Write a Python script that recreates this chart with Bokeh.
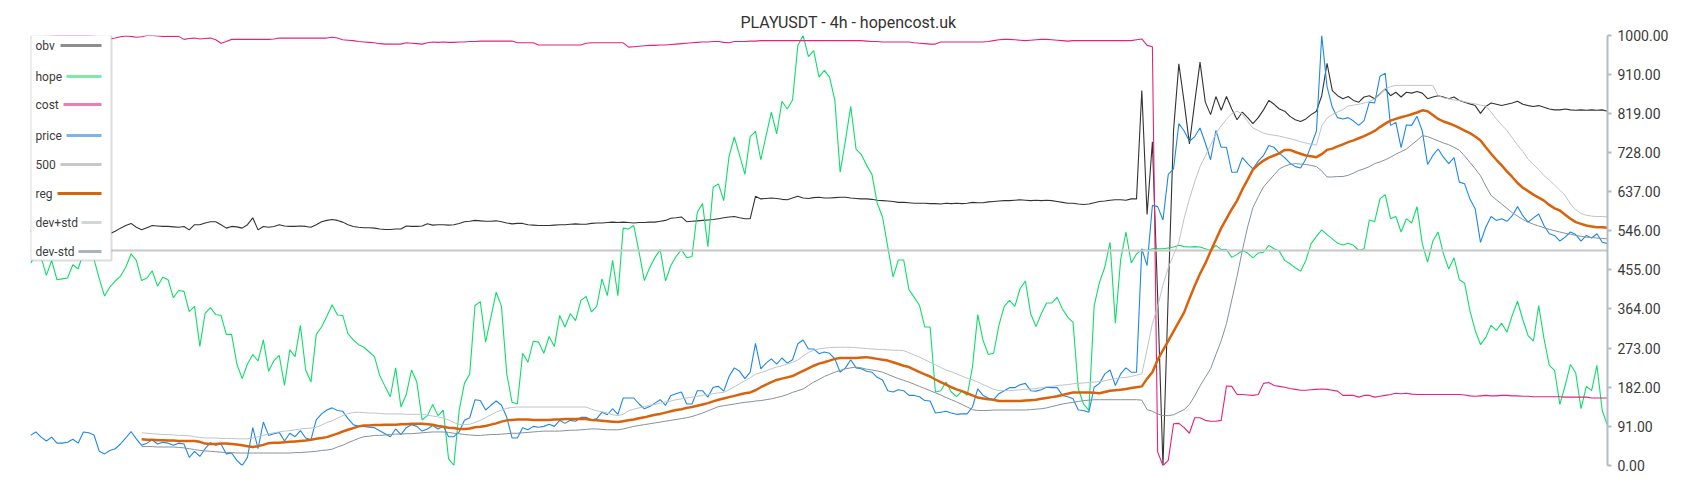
from bokeh.plotting import figure
from bokeh.models import Range1d, FixedTicker, PrintfTickFormatter, BoxAnnotation, Label
from bokeh.embed import file_html
from bokeh.resources import INLINE

TITLE = "PLAYUSDT - 4h - hopencost.uk"
LEVEL_500 = 500
TICKS = [0, 91, 182, 273, 364, 455, 546, 637, 728, 819, 910, 1000]
BAND_START = 21

price = [
70, 78, 66, 57, 66, 52, 52, 54, 61, 52,
78, 76, 71, 33, 27, 35, 39, 50, 64, 79,
62, 47, 52, 60, 50, 54, 52, 47, 52, 50,
19, 33, 21, 39, 53, 47, 50, 27, 29, 12,
0, 19, 88, 39, 101, 70, 74, 77, 57, 75,
67, 81, 64, 60, 106, 120, 129, 134, 128, 126,
109, 95, 91, 91, 89, 88, 81, 74, 67, 85,
72, 88, 95, 91, 80, 85, 93, 85, 91, 67,
67, 78, 105, 111, 153, 151, 129, 140, 150, 140,
112, 64, 64, 88, 83, 91, 89, 91, 96, 91,
105, 98, 105, 103, 112, 112, 106, 109, 124, 118,
132, 119, 157, 157, 157, 143, 132, 137, 145, 153,
140, 163, 167, 171, 143, 143, 174, 174, 159, 182,
184, 173, 207, 227, 219, 202, 217, 284, 225, 238,
248, 236, 250, 238, 246, 283, 292, 271, 271, 260,
264, 261, 248, 217, 227, 246, 227, 225, 219, 217,
205, 199, 174, 171, 176, 174, 163, 163, 160, 151,
150, 122, 124, 126, 122, 119, 120, 120, 136, 178,
163, 157, 153, 167, 174, 181, 181, 188, 191, 174,
173, 176, 182, 181, 181, 163, 160, 155, 129, 128,
124, 182, 191, 213, 222, 186, 213, 227, 217, 217,
504, 465, 605, 602, 571, 677, 690, 795, 778, 754,
765, 785, 750, 711, 779, 740, 740, 682, 682, 716,
702, 690, 708, 721, 744, 740, 726, 716, 703, 695,
692, 713, 744, 778, 1000, 881, 833, 809, 806, 809,
801, 791, 802, 845, 843, 905, 912, 791, 798, 739,
792, 791, 812, 778, 700, 721, 736, 717, 702, 716,
659, 655, 620, 597, 519, 554, 579, 570, 574, 568,
581, 602, 581, 566, 576, 585, 558, 539, 535, 522,
531, 543, 537, 522, 535, 529, 539, 519, 516]

hope = [
470, 490, 484, 442, 477, 432, 434, 436, 467, 457,
495, 500, 480, 434, 394, 415, 429, 440, 461, 492,
477, 430, 436, 453, 417, 438, 432, 390, 407, 405,
358, 370, 277, 354, 367, 351, 349, 305, 305, 236,
202, 236, 258, 243, 292, 219, 244, 256, 186, 269,
253, 326, 222, 194, 305, 322, 347, 374, 350, 349,
306, 292, 281, 275, 264, 253, 209, 184, 160, 227,
136, 165, 222, 194, 106, 116, 142, 116, 129, 16,
0, 128, 191, 213, 372, 381, 287, 345, 403, 370,
213, 147, 143, 261, 240, 289, 287, 261, 300, 277,
349, 322, 353, 337, 384, 393, 357, 370, 434, 395,
477, 395, 552, 550, 558, 496, 430, 460, 484, 502,
429, 465, 486, 502, 483, 486, 589, 609, 509, 647,
655, 616, 719, 764, 721, 677, 765, 777, 711, 767,
822, 771, 847, 829, 850, 977, 1000, 951, 965, 903,
919, 903, 849, 682, 756, 835, 736, 723, 698, 677,
610, 578, 508, 438, 478, 478, 409, 391, 372, 322,
322, 171, 174, 194, 171, 160, 173, 163, 229, 351,
291, 258, 261, 326, 370, 384, 370, 411, 429, 353,
323, 353, 378, 378, 391, 364, 345, 333, 178, 143,
128, 372, 426, 461, 519, 331, 478, 543, 471, 492,
502, 500, 504, 504, 504, 506, 508, 512, 509, 508,
509, 508, 504, 500, 512, 502, 502, 484, 491, 500,
494, 483, 494, 496, 512, 504, 498, 477, 469, 460,
452, 477, 516, 533, 548, 537, 527, 517, 513, 517,
512, 500, 504, 571, 567, 620, 630, 574, 579, 543,
574, 564, 602, 516, 473, 522, 543, 492, 457, 483,
432, 424, 360, 314, 281, 298, 326, 314, 331, 310,
349, 382, 339, 302, 289, 372, 295, 233, 221, 142,
186, 235, 215, 132, 184, 174, 233, 128, 93]

cost = [
995, 996, 997, 998, 999, 1000, 1000, 1000, 1000, 1000,
1000, 1000, 999, 997, 994, 992, 994, 997, 999, 998,
996, 997, 1000, 1000, 999, 998, 998, 998, 998, 991,
993, 994, 992, 993, 994, 990, 982, 986, 991, 991,
991, 991, 991, 991, 991, 991, 992, 994, 994, 994,
994, 994, 994, 994, 994, 994, 994, 996, 994, 990,
989, 988, 986, 985, 984, 983, 981, 980, 980, 980,
980, 983, 982, 981, 980, 983, 985, 984, 985, 984,
984, 985, 985, 986, 986, 987, 987, 987, 987, 987,
987, 987, 983, 983, 983, 983, 978, 978, 978, 978,
978, 978, 978, 978, 978, 982, 983, 983, 983, 983,
983, 983, 983, 973, 974, 975, 976, 977, 977, 978,
978, 979, 980, 981, 982, 983, 984, 985, 985, 986,
986, 984, 983, 986, 986, 986, 987, 987, 988, 988,
988, 988, 988, 988, 988, 988, 988, 988, 988, 988,
988, 988, 988, 988, 988, 988, 988, 988, 987, 986,
986, 985, 985, 985, 985, 985, 985, 983, 982, 981,
980, 980, 985, 985, 985, 985, 985, 985, 985, 985,
985, 986, 988, 990, 991, 991, 990, 989, 988, 989,
990, 991, 991, 990, 989, 988, 987, 988, 988, 988,
988, 988, 988, 988, 988, 988, 988, 988, 988, 990,
992, 977, 974, 31, 0, 12, 97, 98, 88, 75,
111, 111, 105, 103, 103, 105, 185, 184, 165, 165,
164, 163, 165, 191, 193, 186, 184, 182, 179, 177,
175, 175, 176, 177, 178, 177, 175, 173, 163, 163,
163, 159, 163, 163, 159, 161, 163, 165, 168, 167,
168, 166, 165, 165, 165, 165, 165, 165, 165, 165,
165, 164, 162, 161, 162, 163, 162, 162, 163, 163,
162, 162, 161, 161, 160, 160, 160, 160, 160, 160,
159, 159, 159, 159, 159, 157, 157, 157, 157]

obv = [
545, 548, 543, 540, 546, 550, 547, 542, 538, 540,
544, 541, 539, 536, 538, 539, 545, 552, 558, 563,
554, 548, 553, 558, 557, 556, 556, 555, 554, 556,
548, 560, 560, 564, 567, 567, 560, 552, 556, 555,
552, 560, 576, 548, 556, 554, 556, 560, 557, 556,
556, 557, 556, 554, 560, 567, 570, 572, 570, 566,
560, 556, 554, 553, 553, 552, 550, 549, 549, 550,
550, 557, 556, 556, 557, 562, 559, 560, 560, 559,
560, 563, 567, 568, 570, 569, 568, 568, 569, 567,
564, 562, 563, 563, 560, 559, 558, 558, 558, 559,
560, 560, 561, 562, 561, 561, 563, 564, 564, 565,
566, 565, 566, 565, 564, 565, 565, 566, 566, 568,
570, 575, 576, 578, 567, 568, 569, 570, 571, 572,
574, 576, 578, 579, 576, 574, 574, 626, 620, 621,
622, 621, 619, 618, 622, 626, 622, 621, 623, 624,
622, 622, 623, 624, 624, 622, 621, 620, 620, 619,
617, 616, 615, 614, 612, 612, 611, 610, 610, 610,
609, 609, 608, 610, 609, 610, 609, 610, 612, 611,
611, 613, 614, 615, 616, 616, 617, 618, 617, 616,
617, 616, 617, 616, 614, 612, 610, 610, 608, 607,
608, 611, 614, 615, 617, 618, 618, 617, 620, 620,
872, 584, 753, 390, 0, 400, 780, 934, 845, 748,
845, 938, 845, 816, 858, 826, 858, 829, 804, 822,
809, 795, 809, 827, 849, 840, 829, 824, 812, 804,
800, 806, 816, 824, 860, 935, 872, 860, 853, 858,
849, 845, 857, 860, 853, 864, 876, 860, 868, 857,
868, 866, 870, 866, 853, 857, 860, 857, 853, 857,
849, 845, 841, 837, 819, 835, 843, 840, 837, 840,
843, 847, 840, 837, 835, 837, 833, 829, 827, 827,
829, 827, 826, 827, 826, 827, 826, 827, 824]

reg = [
61, 60, 60, 59, 59, 58, 58, 57, 57, 57,
57, 55, 51, 50, 50, 51, 51, 50, 49, 47,
45, 43, 45, 48, 52, 53, 53, 54, 55, 56,
57, 58, 60, 62, 64, 66, 70, 74, 79, 83,
87, 91, 93, 93, 94, 94, 95, 95, 95, 96,
96, 97, 97, 97, 96, 95, 92, 90, 88, 87,
85, 85, 86, 89, 90, 92, 95, 98, 102, 105,
106, 107, 107, 107, 106, 106, 106, 106, 107, 107,
108, 108, 108, 109, 108, 106, 105, 104, 103, 102,
101, 103, 105, 107, 110, 112, 115, 118, 120, 123,
126, 129, 131, 134, 136, 139, 142, 145, 149, 153,
156, 159, 162, 165, 168, 170, 175, 182, 188, 194,
199, 202, 205, 208, 214, 220, 226, 232, 237, 240,
244, 248, 250, 250, 250, 250, 251, 252, 250, 248,
246, 244, 240, 236, 232, 229, 223, 217, 212, 207,
200, 194, 188, 182, 177, 173, 168, 163, 158, 156,
154, 153, 150, 150, 150, 150, 150, 151, 152, 153,
155, 157, 159, 161, 164, 167, 170, 170, 170, 170,
169, 168, 171, 174, 175, 176, 178, 180, 182, 184,
202, 217, 246, 268, 290, 312, 334, 356, 388, 418,
446, 470, 498, 525, 552, 574, 596, 616, 642, 665,
688, 700, 709, 716, 721, 726, 734, 734, 729, 725,
721, 719, 717, 724, 734, 737, 742, 747, 752, 756,
761, 766, 772, 778, 787, 795, 802, 806, 810, 813,
817, 821, 826, 824, 815, 806, 800, 796, 791, 785,
779, 773, 765, 756, 740, 725, 711, 698, 684, 671,
657, 646, 638, 630, 623, 616, 606, 598, 593, 583,
574, 566, 562, 558, 556, 554, 554, 553]

dev_plus = [
76, 75, 74, 73, 72, 72, 71, 70, 70, 69,
67, 65, 64, 64, 64, 63, 63, 63, 62, 62,
62, 64, 67, 70, 74, 76, 78, 80, 81, 83,
85, 86, 87, 89, 94, 100, 104, 110, 116, 121,
123, 124, 123, 122, 122, 121, 120, 120, 120, 120,
119, 119, 119, 119, 117, 115, 113, 110, 106, 100,
96, 95, 96, 100, 105, 111, 118, 124, 129, 133,
135, 136, 136, 136, 136, 136, 136, 136, 136, 136,
136, 136, 136, 136, 136, 131, 127, 125, 122, 118,
116, 119, 127, 131, 134, 137, 140, 142, 145, 148,
150, 153, 155, 157, 159, 161, 163, 165, 167, 169,
170, 176, 183, 190, 197, 204, 212, 216, 220, 225,
229, 232, 236, 240, 245, 255, 263, 268, 271, 273,
274, 275, 275, 275, 275, 274, 273, 272, 271, 270,
270, 269, 268, 268, 267, 262, 257, 252, 246, 240,
234, 228, 222, 218, 213, 208, 203, 199, 194, 188,
183, 177, 174, 174, 174, 175, 176, 177, 178, 179,
181, 183, 184, 186, 187, 188, 190, 191, 192, 193,
194, 195, 197, 200, 202, 204, 205, 207, 210, 213,
270, 330, 370, 420, 460, 490, 520, 575, 620, 660,
695, 720, 745, 772, 790, 805, 818, 824, 817, 800,
785, 779, 773, 770, 768, 766, 763, 760, 757, 753,
750, 747, 745, 790, 808, 816, 822, 828, 836, 838,
840, 843, 846, 853, 864, 876, 881, 884, 884, 884,
884, 884, 884, 884, 884, 860, 855, 853, 850, 849,
846, 843, 841, 838, 836, 822, 806, 792, 779, 762,
745, 730, 712, 700, 688, 674, 664, 652, 640, 628,
608, 595, 586, 582, 580, 579, 579, 578]

dev_minus = [
44, 44, 44, 43, 43, 43, 43, 42, 41, 39,
37, 35, 34, 33, 32, 31, 30, 30, 29, 29,
29, 29, 29, 29, 29, 29, 29, 29, 29, 30,
30, 31, 32, 33, 35, 36, 38, 43, 47, 53,
58, 63, 67, 68, 70, 70, 71, 72, 73, 73,
74, 74, 75, 76, 77, 78, 78, 78, 77, 75,
74, 72, 71, 70, 70, 71, 72, 72, 73, 74,
75, 75, 76, 77, 78, 79, 80, 80, 80, 80,
81, 82, 82, 83, 84, 85, 85, 84, 83, 83,
83, 85, 88, 91, 93, 95, 97, 99, 101, 103,
105, 107, 109, 111, 114, 118, 122, 127, 132, 137,
139, 141, 143, 145, 147, 148, 150, 151, 153, 155,
158, 161, 165, 170, 174, 178, 186, 194, 200, 207,
212, 217, 221, 225, 227, 229, 227, 224, 222, 220,
217, 212, 207, 202, 198, 194, 189, 184, 179, 174,
169, 164, 158, 153, 148, 142, 136, 130, 128, 128,
128, 129, 129, 129, 129, 129, 129, 129, 130, 131,
132, 134, 137, 140, 143, 145, 147, 149, 151, 152,
153, 153, 153, 153, 153, 153, 153, 153, 153, 152,
130, 126, 120, 116, 116, 118, 124, 130, 142, 162,
185, 205, 225, 258, 290, 330, 385, 440, 500, 555,
600, 625, 648, 662, 676, 690, 696, 700, 702, 701,
700, 698, 695, 685, 671, 671, 672, 672, 675, 680,
686, 690, 695, 702, 706, 711, 717, 724, 730, 736,
746, 756, 767, 765, 760, 755, 750, 746, 740, 733,
720, 705, 690, 674, 650, 628, 618, 608, 598, 588,
580, 572, 566, 561, 557, 553, 549, 546, 543, 540,
538, 535, 533, 531, 530, 529, 528, 527]

N = len(price)
x_all = list(range(N))
x_band = list(range(BAND_START, BAND_START + len(reg)))

p = figure(frame_width=1577, frame_height=430,
           x_range=Range1d(0, N - 1), y_range=Range1d(0, 1000),
           y_axis_location="right", x_axis_location=None,
           toolbar_location=None, output_backend="svg",
           min_border_left=30, min_border_top=35, min_border_bottom=10, min_border_right=6,
           title=TITLE)
p.outline_line_color = None
p.grid.grid_line_color = None
p.background_fill_color = "white"
p.border_fill_color = "white"

p.title.align = "left"
p.title.offset = 710
p.title.text_font = "Roboto"
p.title.text_font_size = "16px"
p.title.text_font_style = "normal"
p.title.text_color = "#333333"
p.title.standoff = 7

ax = p.yaxis[0]
ax.ticker = FixedTicker(ticks=TICKS)
ax.formatter = PrintfTickFormatter(format="%.2f")
ax.axis_line_color = "#b3bcc4"
ax.axis_line_width = 2
ax.major_tick_line_color = "#b3bcc4"
ax.major_tick_line_width = 2
ax.major_tick_in = 0
ax.major_tick_out = 4
ax.minor_tick_line_color = None
ax.major_label_text_font = "Roboto"
ax.major_label_text_font_size = "14px"
ax.major_label_text_color = "#3a3a3a"
ax.major_label_standoff = 6

p.line(x_all, obv, line_color="#333333", line_width=1.1)
p.line(x_all, hope, line_color="#10dc6a", line_width=1.1)
p.line(x_all, cost, line_color="#e8207c", line_width=1.1)
p.line(x_all, price, line_color="#1e88e5", line_width=1.1)
p.line([x_all[0], x_all[-1]], [LEVEL_500, LEVEL_500], line_color="#c8c8c8", line_width=2)
p.line(x_band, reg, line_color="#d9620c", line_width=2.5)
p.line(x_band, dev_plus, line_color="#bfc3c7", line_width=1)
p.line(x_band, dev_minus, line_color="#86919a", line_width=1)

# manual legend (label then swatch), screen units relative to the frame
p.add_layout(BoxAnnotation(left=0, right=81, top=431, bottom=205,
                           left_units="screen", right_units="screen",
                           top_units="screen", bottom_units="screen",
                           fill_color="white", fill_alpha=1.0,
                           line_color="#8c8c8c", line_width=2, level="annotation"))
legend_items = [
    ("obv", "#8d8d8d", 30, 420),
    ("hope", "#7fe8a8", 36, 389),
    ("cost", "#ef7cb6", 33, 361),
    ("price", "#79b5ec", 36, 330),
    ("500", "#c8c8c8", 30, 301),
    ("reg", "#d9620c", 27, 272),
    ("dev+std", "#d3d6d9", 51, 243),
    ("dev-std", "#abb4bc", 48, 214),
]
for text, col, sx, yc in legend_items:
    p.add_layout(BoxAnnotation(left=sx, right=71, top=yc + 1.5, bottom=yc - 1.5,
                               left_units="screen", right_units="screen",
                               top_units="screen", bottom_units="screen",
                               fill_color=col, fill_alpha=1.0, line_color=None))
    p.add_layout(Label(x=5, y=yc, x_units="screen", y_units="screen", text=text,
                       text_baseline="middle", text_align="left",
                       text_font="Roboto", text_font_size="12px", text_color="#3c3c3c"))

open("out.html", "w").write(file_html(p, INLINE))
